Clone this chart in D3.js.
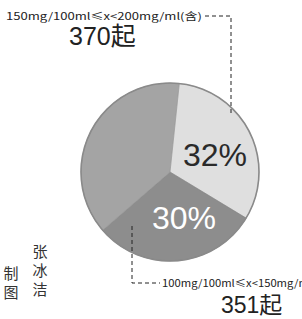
<!DOCTYPE html>
<html><head><meta charset="utf-8">
<script src="https://cdn.jsdelivr.net/npm/d3@7"></script>
<style>html,body{margin:0;padding:0;background:#fff;}svg{display:block;}</style>
</head><body>
<script>
const categories = ["150mg/100ml≤x<200mg/ml(含)", "100mg/100ml≤x<150mg/ml", "其他"];
const shares = [32, 30, 38];
const counts = ["370起", "351起", ""];
const colors = ["#dfdfdf", "#8d8d8d", "#a4a4a4"];
const credit = [["制", "图"], ["张", "冰", "洁"]];

const W = 302, H = 319;
const svg = d3.select("body").append("svg").attr("width", W).attr("height", H);
const cx = 170, cy = 172, R = 89;

const pie = d3.pie().sort(null).value(d => d).startAngle(6 * Math.PI / 180).endAngle(6 * Math.PI / 180 + 2 * Math.PI);
const arcs = pie(shares);
const arc = d3.arc().innerRadius(0).outerRadius(R);
const g = svg.append("g").attr("transform", `translate(${cx},${cy})`);
g.selectAll("path").data(arcs).join("path")
  .attr("d", arc).attr("fill", (d, i) => colors[i])
  .attr("stroke", (d, i) => d3.color(colors[i]).darker(0.3)).attr("stroke-width", 0.6);
g.append("circle").attr("r", R).attr("fill", "none").attr("stroke", "#8a8a8a").attr("stroke-width", 1.6);

// percent labels
const labelPos = [[45, -17], [14, 46]];
const pctColor = ["#2a2a2a", "#ffffff"];
[0, 1].forEach(i => {
  g.append("text").attr("x", labelPos[i][0]).attr("y", labelPos[i][1])
    .attr("text-anchor", "middle").attr("dominant-baseline", "central")
    .attr("font-family", "Liberation Sans, Arial, sans-serif").attr("font-size", 32)
    .attr("fill", pctColor[i]).text(shares[i] + "%");
});

// leader lines
const line = d3.line();
svg.append("path").attr("d", line([[205, 16], [231, 16], [231, 113]]))
  .attr("fill", "none").attr("stroke", "#222").attr("stroke-width", 1).attr("stroke-dasharray", "4,3");
svg.append("path").attr("d", line([[132, 226], [132, 283], [160, 283]]))
  .attr("fill", "none").attr("stroke", "#222").attr("stroke-width", 1).attr("stroke-dasharray", "4,3");

// category labels
svg.append("text").attr("x", 6).attr("y", 20)
  .attr("font-family", "Noto Sans CJK SC, sans-serif").attr("font-size", 10)
  .attr("textLength", 196).attr("lengthAdjust", "spacingAndGlyphs")
  .attr("fill", "#222").text(categories[0]);
svg.append("text").attr("x", 162).attr("y", 287)
  .attr("font-family", "Noto Sans CJK SC, sans-serif").attr("font-size", 10)
  .attr("textLength", 150).attr("lengthAdjust", "spacingAndGlyphs")
  .attr("fill", "#222").text(categories[1]);

// counts
svg.append("text").attr("x", 69).attr("y", 45)
  .attr("font-family", "Liberation Sans, Noto Sans CJK SC, sans-serif").attr("font-size", 25)
  .attr("fill", "#222").text(counts[0]);
svg.append("text").attr("x", 221).attr("y", 313)
  .attr("font-family", "Liberation Sans, Noto Sans CJK SC, sans-serif").attr("font-size", 23)
  .attr("fill", "#222").text(counts[1]);

// credit
const colX = [11, 40];
const colY0 = [279, 257];
credit.forEach((col, ci) => {
  col.forEach((ch, k) => {
    svg.append("text").attr("x", colX[ci]).attr("y", colY0[ci] + k * 19)
      .attr("text-anchor", "middle")
      .attr("font-family", "Noto Sans CJK SC, sans-serif").attr("font-size", 15)
      .attr("fill", "#333").text(ch);
  });
});
</script>
</body></html>
